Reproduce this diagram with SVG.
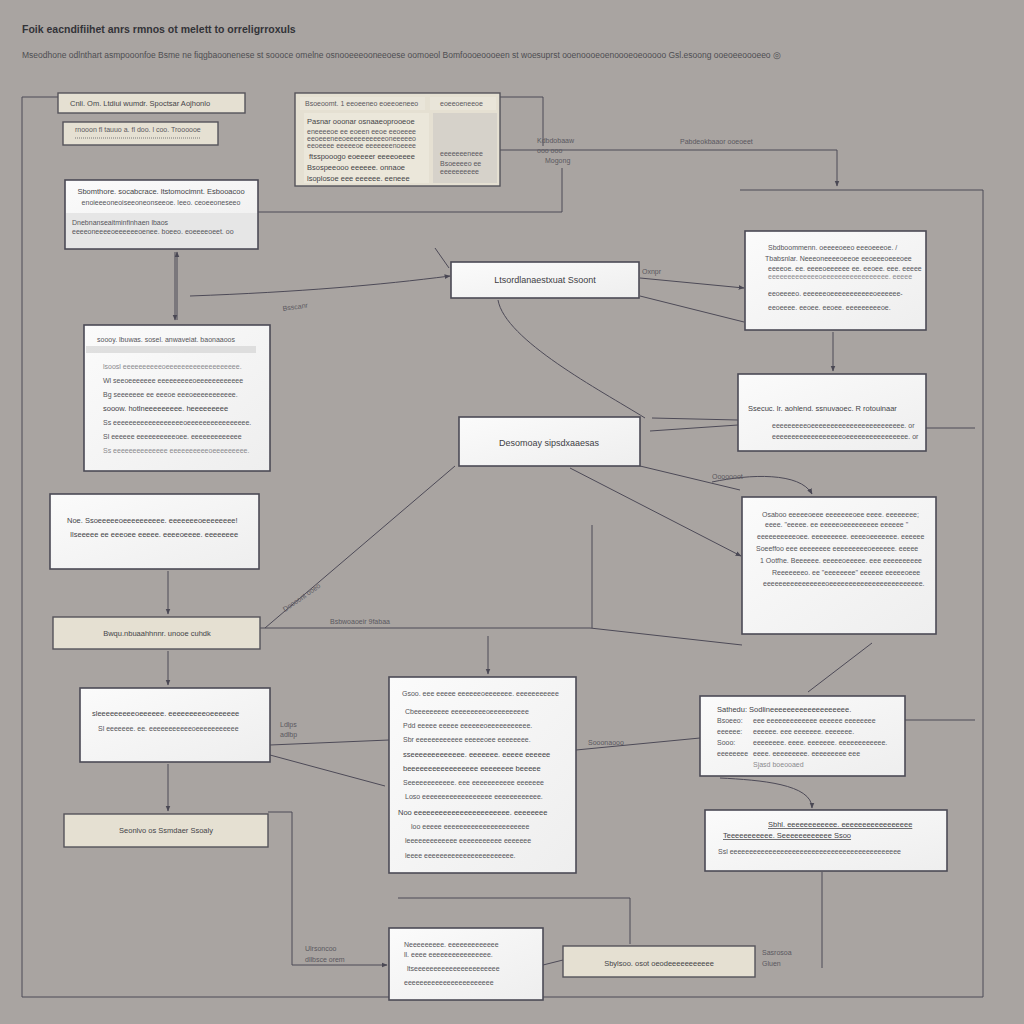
<svg xmlns="http://www.w3.org/2000/svg" width="1024" height="1024" viewBox="0 0 1024 1024">
<defs>
<marker id="arr" viewBox="0 0 10 10" refX="9" refY="5" markerWidth="6" markerHeight="6" orient="auto-start-reverse">
<path d="M0,1 L10,5 L0,9 z" fill="#4a4854"/>
</marker>
<linearGradient id="wg" x1="0" y1="0" x2="1" y2="1">
<stop offset="0" stop-color="#fbfbfb"/>
<stop offset="1" stop-color="#eeeeee"/>
</linearGradient>
<linearGradient id="hg" x1="0" y1="0" x2="0" y2="1">
<stop offset="0" stop-color="#d8d6d4"/>
<stop offset="0.35" stop-color="#f4f4f4"/>
<stop offset="1" stop-color="#f0f0ee"/>
</linearGradient>
</defs>
<style>
.bg{fill:#a9a4a1}
.w{fill:url(#wg);stroke:#4b4a55;stroke-width:1.6}
.t{fill:#e5e0d2;stroke:#55535a;stroke-width:1.4}
.c{fill:none;stroke:#4d4a57;stroke-width:1}
.ca{fill:none;stroke:#4d4a57;stroke-width:1;marker-end:url(#arr)}
text{font-family:"Liberation Sans",Arial,sans-serif;fill:#55555a;font-size:7px}
.h{font-size:10.5px;fill:#333338;font-weight:bold}
.s{font-size:8.5px;fill:#4e4e52}
.b{font-size:7.5px;fill:#444448}
.m{font-size:9px;fill:#3e3e44}
.l{font-size:7px;fill:#5a5860}
.lt{fill:#8a8a8e}
</style>
<rect class="bg" x="0" y="0" width="1024" height="1024"/>
<text class="h" x="22" y="33">Foik eacndifiihet anrs rmnos ot melett to orreligrroxuls</text>
<text class="s" x="22" y="58">Mseodhone odlnthart asmpooonfoe Bsme ne fiqgbaoonenese st soooce omelne osnooeeeooneeoese oomoeol Bomfoooeoooeen st woesuprst ooenoooeoenoooeoeooooo Gsl.esoong ooeoeeoooeeo ◎</text>

<g id="connectors">
<path class="c" d="M60,97 H22 V997 H983 V190 H740"/>
<path class="ca" d="M500,150 H837 V186"/>
<path class="c" d="M500,97 H543 V146"/>
<path class="c" d="M258,212 H562 V168"/>
<path class="ca" d="M175,252 V320"/>
<path class="ca" d="M177,320 V252"/>
<path class="ca" d="M190,296 C300,292 380,285 450,276"/>
<path class="c" d="M435,248 L449,268"/>
<path class="ca" d="M640,278 L744,288"/>
<path class="c" d="M640,296 L744,322"/>
<path class="c" d="M498,300 C505,340 600,390 645,418"/>
<path class="ca" d="M833,332 V371"/>
<path class="c" d="M738,425 L650,431"/>
<path class="c" d="M738,420 L652,418"/>
<path class="c" d="M926,428 H975"/>
<path class="ca" d="M570,468 L741,556"/>
<path class="c" d="M640,466 L740,490"/>
<path class="ca" d="M712,482 C750,474 800,472 812,494"/>
<path class="c" d="M455,466 L265,628"/>
<path class="ca" d="M168,571 V614"/>
<path class="c" d="M260,628 H590 L742,645"/>
<path class="c" d="M592,525 V628"/>
<path class="ca" d="M168,651 V685"/>
<path class="ca" d="M488,636 V674"/>
<path class="c" d="M270,745 L389,740"/>
<path class="c" d="M270,755 L385,786"/>
<path class="ca" d="M168,764 V811"/>
<path class="ca" d="M268,812 H292 V965 H387"/>
<path class="c" d="M576,750 L700,738"/>
<path class="ca" d="M720,778 C760,780 812,784 812,808"/>
<path class="c" d="M808,692 L872,643"/>
<path class="c" d="M905,720 H975"/>
<path class="c" d="M822,872 V968"/>
<path class="c" d="M543,965 L563,960"/>
<path class="c" d="M398,898 H630 V944"/>
<text class="l" x="680" y="144">Pabdeokbaaor ooeoeet</text>
<text class="l" x="537" y="143">Kdbdobaaw</text>
<text class="l" x="537" y="153">ooo ooo</text>
<text class="l" x="545" y="163">Mogong</text>
<text class="l" x="283" y="311" transform="rotate(-8 283 311)">Bsscanr</text>
<text class="l" x="642" y="274">Oxnpr</text>
<text class="l" x="712" y="479">Ooooooot</text>
<text class="l" x="285" y="612" transform="rotate(-35 285 612)">Doooont ooeo</text>
<text class="l" x="330" y="624">Bsbwoaoeir 9fabaa</text>
<text class="l" x="280" y="727">Ldlps</text>
<text class="l" x="280" y="737">adlbp</text>
<text class="l" x="588" y="745">Sooonaooo</text>
<text class="l" x="305" y="951">Ulrsoncoo</text>
<text class="l" x="305" y="962">dllbsce orem</text>
<text class="l" x="762" y="955">Sasrosoa</text>
<text class="l" x="762" y="966">Gluen</text>
</g>

<g id="nodeA"><rect class="t" x="58" y="93" width="187" height="20"/><text class="b" x="70" y="106">Cnli. Om. Ltdiui wumdr. Spoctsar Aojhonlo</text></g>
<g id="nodeB"><rect class="t" x="63" y="122" width="155" height="23"/><text class="l" x="75" y="132">rnooon fl tauuo a. fl doo. l coo. Troooooe</text><path d="M75,138 H200" stroke="#777" stroke-dasharray="1 1"/></g>

<g id="nodeC"><rect class="w" x="65" y="180" width="193" height="69"/><rect x="66" y="213" width="191" height="35" fill="#e6e6e6"/>
<text class="b" x="161" y="194" text-anchor="middle">Sbomthore. socabcrace. ltstomocimnt. Esbooacoo</text>
<text x="161" y="205" text-anchor="middle">enoieeeoneoiseeoneonseeoe. leeo. ceoeeoneseeo</text>
<text x="72" y="225">Dnebnanseaitminfinhaen lbaos</text>
<text x="72" y="234">eeeeoneeeeoeeeeeeoenee. boeeo. eoeeeeoeet. oo</text></g>

<g id="nodeD"><rect class="t" x="295" y="93" width="205" height="93" fill="#dcd8cd"/>
<rect x="300" y="97" width="125" height="13" fill="#e9e5d9"/><rect x="430" y="97" width="66" height="13" fill="#e9e5d9"/>
<rect x="304" y="113" width="125" height="70" fill="#ebe7da"/><rect x="433" y="113" width="64" height="70" fill="#d6d2ca"/>
<text class="l" x="305" y="106">Bsoeoomt. 1 eeoeeneo eoeeoeneeo</text>
<text class="l" x="440" y="106">eoeeoeneeoe</text>
<text class="b" x="307" y="124">Pasnar ooonar osnaaeoprooeoe</text>
<text class="l" x="307" y="134">eneeeeoe ee eoeen eeoe eeoeeee</text>
<text class="l" x="307" y="141">eeoeeeneeoeeeeeeeeeeoneeeeeo</text>
<text class="l" x="307" y="148">eeoeeee eeeeeoe eeeeeeenoeeee</text>
<text class="b" x="309" y="159">ftsspooogo eoeeeer eeeeoeeee</text>
<text class="b" x="307" y="170">Bsospeeooo eeeeee. onnaoe</text>
<text class="b" x="307" y="181">lsoplosoe eee eeeeee. eeneee</text>
<text class="l" x="440" y="156">eeeeeeeneee</text>
<text class="l" x="440" y="166">Bsoeeeeo ee</text>
<text class="l" x="440" y="174">eeeeeeeeee</text></g>

<g id="nodeE"><rect class="w" x="451" y="262" width="188" height="36"/><text class="m" x="545" y="283" text-anchor="middle">Ltsordlanaestxuat Ssoont</text></g>

<g id="nodeF"><rect class="w" x="745" y="231" width="181" height="99"/>
<text x="768" y="250">Sbdboommenn. oeeeeoeeo eeeoeeeoe. /</text>
<text x="765" y="261">Tbabsnlar. Neeeoneeeeoeeoe eeoeeeoeeeoee</text>
<text x="768" y="271">eeeeoe. ee. eeeeoeeeeee ee. eeoee. eee. eeeee</text>
<text x="768" y="279" class="lt">eeeeeeeeeeeeeoeeeeeeeeeeeeeeeee. eeeee</text>
<text x="768" y="296">eeoeeeeo. eeeeeeoeeeeeeeeeeeoeeeeee-</text>
<text x="768" y="310">eeoeeee. eeoee. eeoee. eeeeeeeeeoe.</text></g>

<g id="nodeG"><rect class="w" x="84" y="325" width="186" height="146"/><rect x="86" y="346" width="170" height="7" fill="#d4d4d4" opacity="0.7"/>
<text x="97" y="342">soooy. lbuwas. sosel. anwaveiat. baonaaoos</text>
<text x="103" y="369" class="lt">lsoosl eeeeeeeeeeoeeeeeeeeeeeeeeeeeee.</text>
<text x="103" y="383">Wl seeoeeeeeee eeeeeeeeeoeeeeeeeeeeee</text>
<text x="103" y="397">Bg seeeeeee ee eeeoe eeeoeeeeeeeeeee.</text>
<text x="103" y="411" class="b">sooow. hotlneeeeeeeee. heeeeeeeee</text>
<text x="103" y="425">Ss eeeeeeeeeeeeeeeeeeoeeeeeeeeeeeeeeee.</text>
<text x="103" y="439">Sl eeeeee eeeeeeeeeeoee. eeeeeeeeeeeee</text>
<text x="103" y="453" class="lt">Ss eeeeeeeeeeeeee eeeeeeeeeeoeeeeeeeee.</text></g>

<g id="nodeH"><rect class="w" x="738" y="374" width="188" height="77" fill="url(#hg)"/>
<text class="b" x="748" y="411">Ssecuc. lr. aohlend. ssnuvaoec. R rotouinaar</text>
<text x="772" y="428">eeeeeeeeeoeeeeeeeeeeeeeeeeeeeeeeee. or</text>
<text x="772" y="439">eeeeeeeeeeeeeeeeeeoeeeeeeeeeeeeeeee. or</text></g>

<g id="nodeI"><rect class="w" x="459" y="417" width="181" height="49"/><text class="m" x="549" y="446" text-anchor="middle">Desomoay sipsdxaaesas</text></g>

<g id="nodeJ"><rect class="w" x="50" y="494" width="209" height="75"/>
<text class="b" x="67" y="523">Noe. Ssoeeeeeoeeeeeeeeee. eeeeeeeoeeeeeeee!</text>
<text class="b" x="70" y="537">Ilseeeee ee eeeoee eeeee. eeeeoeeee. eeeeeeee</text></g>

<g id="nodeK"><rect class="w" x="742" y="497" width="194" height="137"/>
<text x="762" y="517">Osaboo eeeeeoeee eeeeeeeoee eeee. eeeeeeee;</text>
<text x="765" y="527">eeee. "eeeee. ee eeeeeoeeeeeeeee eeeeee "</text>
<text x="757" y="539">eeeeeeeeeeoee. eeeeeeeee. eeeeoeeeeeee. eeeeee</text>
<text x="756" y="551">Soeeffoo eee eeeeeeee eeeeeeeeeoeeeeee. eeeee</text>
<text x="760" y="563">1 Ootfhe. Beeeeee. eeeeeoeeeee. eee eeeeeeeeee</text>
<text x="772" y="575">Reeeeeeeo. ee "eeeeeeee" eeeeee eeeeeoeee</text>
<text x="763" y="586">eeeeeeeeeeeeeeeeoeeeeeeeeeeeeeeeeeeeeeeee.</text></g>

<g id="nodeL"><rect class="t" x="53" y="617" width="207" height="32"/><text class="b" x="157" y="636" text-anchor="middle">Bwqu.nbuaahhnnr. unooe cuhdk</text></g>

<g id="nodeM"><rect class="w" x="80" y="688" width="190" height="74"/>
<text class="b" x="92" y="716">sleeeeeeeeeoeeeeee. eeeeeeeeeoeeeeeee</text>
<text x="98" y="731">Sl eeeeeee. ee. eeeeeeeeeeeoeeeeeeeeeee</text></g>

<g id="nodeN"><rect class="w" x="389" y="677" width="187" height="196"/>
<text x="402" y="696">Gsoo. eee eeeee eeeeeeoeeeeeee. eeeeeeeeeee</text>
<text x="405" y="714">Cbeeeeeeeee eeeeeeeeeoeeeeeeeeee</text>
<text x="403" y="728">Pdd eeeee eeeee eeeeeeoeeeeeeeeeee.</text>
<text x="403" y="742">Sbr eeeeeeeeeeee eeeeeoee eeeeeeee.</text>
<text x="403" y="757" class="b">sseeeeeeeeeeeee. eeeeeee. eeeee eeeeee</text>
<text x="403" y="771" class="b">beeeeeeeeeeeeeeeee eeeeeeee beeeee</text>
<text x="403" y="785">Seeeeeeeeeeee. eee eeeeeeeeeee eeeeeee</text>
<text x="405" y="799">Loso eeeeeeeeeeeeeeeeee eeeeeeeeeeee.</text>
<text x="398" y="815" class="b">Noo eeeeeeeeeeeeeeeeeeeeeee. eeeeeeee</text>
<text x="411" y="829">loo eeeee eeeeeeeeeeeeeeeeeeeeee</text>
<text x="405" y="843">leeeeeeeeeeeee eeeeeeeeeee eeeeeee</text>
<text x="405" y="858">leeee eeeeeeeeeeeeeeeeeeeeeee.</text></g>

<g id="nodeO"><rect class="w" x="700" y="696" width="205" height="80"/>
<text class="b" x="717" y="712">Sathedu: Sodlineeeeeeeeeeeeeeeeeee.</text>
<text x="717" y="723">Bsoeeo:</text><text x="753" y="723">eee eeeeeeeeeeeee eeeeee eeeeeeee</text>
<text x="717" y="734">eeeeee:</text><text x="753" y="734">eeeeee. eee eeeeeee. eeeeeee.</text>
<text x="717" y="745">Sooo:</text><text x="753" y="745">eeeeeeee. eeee. eeeeeee. eeeeeeeeeeee.</text>
<text x="717" y="756">eeeeeeee</text><text x="753" y="756">eeee. eeeeeeeee. eeeeeeeee eee</text>
<text x="753" y="767" class="lt">Sjasd boeooaed</text></g>

<g id="nodeP"><rect class="w" x="705" y="810" width="242" height="61"/>
<text class="b" x="768" y="827" text-decoration="underline">Sbhl. eeeeeeeeeeee. eeeeeeeeeeeeeeeee</text>
<text class="b" x="723" y="838" text-decoration="underline">Teeeeeeeeeee. Seeeeeeeeeeee Ssoo</text>
<text x="718" y="854">Ssl eeeeeeeeeeeeeeeeeeeeeeeeeeeeeeeeeeeeeeeeeeee</text></g>

<g id="nodeQ"><rect class="t" x="64" y="814" width="204" height="33"/><text class="b" x="166" y="833" text-anchor="middle">Seonlvo os Ssmdaer Ssoaly</text></g>

<g id="nodeR"><rect class="w" x="389" y="928" width="154" height="72"/>
<text x="404" y="947">Neeeeeeeee. eeeeeeeeeeeee</text>
<text x="404" y="957">ll. eeee eeeeeeeeeeeeeeee.</text>
<text x="407" y="971">ltseeeeeeeeeeeeeeeeeeeeee</text>
<text x="404" y="985">eeeeeeeeeeeeeeeeeeeeeee</text></g>

<g id="nodeS"><rect class="t" x="563" y="946" width="192" height="31"/><text class="b" x="659" y="966" text-anchor="middle">Sbylsoo. osot oeodeeeeeeeeeee</text></g>
</svg>
